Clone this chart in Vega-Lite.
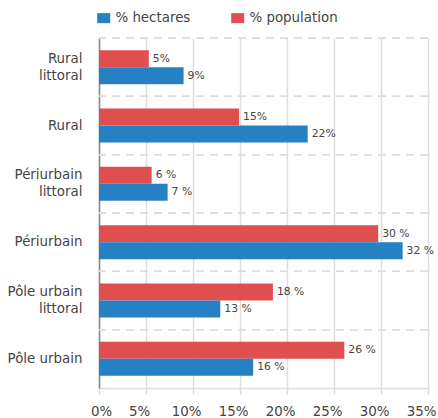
{
  "$schema": "https://vega.github.io/schema/vega-lite/v6.json",
  "width": 329,
  "height": 350,
  "autosize": {"type": "none"},
  "padding": {"left": 99, "top": 38, "right": 10, "bottom": 30},
  "background": "white",
  "config": {
    "font": "DejaVu Sans",
    "view": {"stroke": null}
  },
  "data": {
    "values": [
      {"zone": "Rural littoral", "serie": "% population", "value": 5.3, "label": "5%"},
      {"zone": "Rural littoral", "serie": "% hectares", "value": 9.0, "label": "9%"},
      {"zone": "Rural", "serie": "% population", "value": 14.9, "label": "15%"},
      {"zone": "Rural", "serie": "% hectares", "value": 22.2, "label": "22%"},
      {"zone": "Périurbain littoral", "serie": "% population", "value": 5.6, "label": "6 %"},
      {"zone": "Périurbain littoral", "serie": "% hectares", "value": 7.3, "label": "7 %"},
      {"zone": "Périurbain", "serie": "% population", "value": 29.7, "label": "30 %"},
      {"zone": "Périurbain", "serie": "% hectares", "value": 32.3, "label": "32 %"},
      {"zone": "Pôle urbain littoral", "serie": "% population", "value": 18.5, "label": "18 %"},
      {"zone": "Pôle urbain littoral", "serie": "% hectares", "value": 12.9, "label": "13 %"},
      {"zone": "Pôle urbain", "serie": "% population", "value": 26.1, "label": "26 %"},
      {"zone": "Pôle urbain", "serie": "% hectares", "value": 16.4, "label": "16 %"}
    ]
  },
  "layer": [
    {
      "mark": {"type": "rule", "color": "#dddddd", "strokeWidth": 1.5, "strokeDash": [8, 6]},
      "encoding": {
        "y": {
          "field": "zone", "type": "nominal", "bandPosition": 0,
          "sort": ["Rural littoral", "Rural", "Périurbain littoral", "Périurbain", "Pôle urbain littoral", "Pôle urbain"]
        }
      }
    },
    {
      "mark": {"type": "bar"},
      "encoding": {
        "y": {
          "field": "zone", "type": "nominal",
          "sort": ["Rural littoral", "Rural", "Périurbain littoral", "Périurbain", "Pôle urbain littoral", "Pôle urbain"],
          "scale": {"paddingInner": 0, "paddingOuter": 0},
          "axis": {
            "title": null,
            "ticks": false,
            "grid": false,
            "domainColor": "#888888",
            "domainWidth": 1.5,
            "labelPadding": 17,
            "labelFontSize": 13.4,
            "labelColor": "#444444",
            "labelLineHeight": 17,
            "labelOffset": {"condition": {"test": "indexof(datum.label, ' littoral') > 0", "value": -8.5}, "value": 0},
            "labelExpr": "indexof(datum.label, ' littoral') > 0 ? [replace(datum.label, ' littoral', ''), 'littoral'] : datum.label"
          }
        },
        "yOffset": {
          "field": "serie", "type": "nominal",
          "sort": ["% population", "% hectares"],
          "scale": {"paddingInner": 0, "paddingOuter": 0.716}
        },
        "x": {
          "field": "value", "type": "quantitative",
          "scale": {"domain": [0, 35], "nice": false},
          "axis": {
            "title": null,
            "values": [0, 5, 10, 15, 20, 25, 30, 35],
            "labelExpr": "datum.value + '%'",
            "labelFlush": false,
            "labelFontSize": 13.4,
            "labelColor": "#444444",
            "labelPadding": 10,
            "labelOffset": {"condition": {"test": "datum.value == 0", "value": 2}, "value": -7},
            "tickColor": "#dddddd",
            "tickSize": 6,
            "tickWidth": 1.5,
            "domainColor": "#dddddd",
            "domainWidth": 1.5,
            "gridColor": "#dddddd",
            "gridWidth": 1.5
          }
        },
        "color": {
          "field": "serie", "type": "nominal",
          "scale": {"domain": ["% hectares", "% population"], "range": ["#2681c4", "#df4f4f"]},
          "legend": {
            "title": null,
            "orient": "none",
            "legendX": -2,
            "legendY": -27,
            "direction": "horizontal",
            "symbolType": "M-1,-0.77H1V0.77H-1Z",
            "symbolSize": 169,
            "symbolStrokeWidth": 0,
            "symbolOpacity": 1,
            "labelFontSize": 13.4,
            "labelColor": "#444444",
            "labelOffset": 5,
            "columnPadding": 40
          }
        }
      }
    },
    {
      "mark": {"type": "text", "align": "left", "baseline": "middle", "dx": 4, "fontSize": 10.8, "color": "#444444"},
      "encoding": {
        "y": {
          "field": "zone", "type": "nominal",
          "sort": ["Rural littoral", "Rural", "Périurbain littoral", "Périurbain", "Pôle urbain littoral", "Pôle urbain"]
        },
        "yOffset": {"field": "serie", "type": "nominal", "sort": ["% population", "% hectares"]},
        "x": {"field": "value", "type": "quantitative"},
        "text": {"field": "label"}
      }
    }
  ]
}
